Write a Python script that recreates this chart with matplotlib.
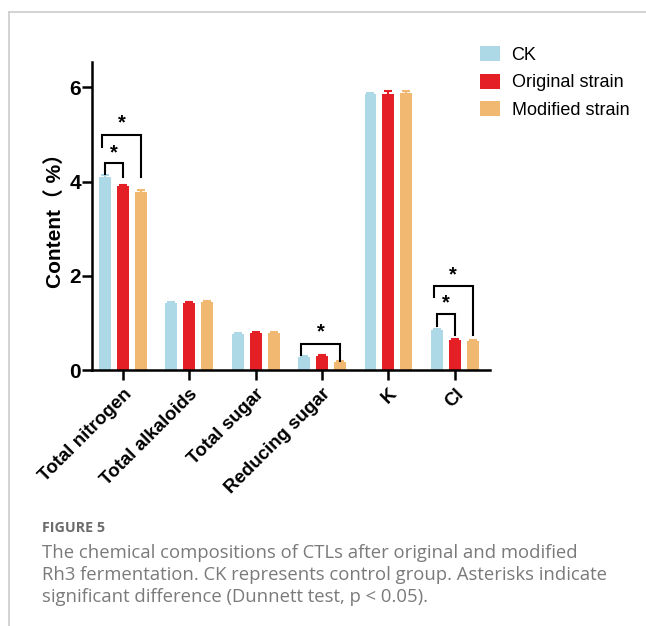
import numpy as np
import matplotlib
matplotlib.use("Agg")
import matplotlib.pyplot as plt
from matplotlib.patches import Patch
from matplotlib.lines import Line2D

# data
categories = ["Total nitrogen", "Total alkaloids", "Total sugar", "Reducing sugar", "K", "Cl"]
series_names = ["CK", "Original strain", "Modified strain"]
ck = [4.10, 1.42, 0.77, 0.27, 5.85, 0.84]
original = [3.91, 1.43, 0.79, 0.29, 5.87, 0.63]
modified = [3.79, 1.44, 0.79, 0.18, 5.89, 0.61]
ck_err = [0.03, 0.02, 0.02, 0.02, 0.04, 0.02]
original_err = [0.02, 0.02, 0.02, 0.02, 0.05, 0.02]
modified_err = [0.04, 0.02, 0.02, 0.02, 0.03, 0.02]

# significance brackets: (group, series a, series b, top, leg a bottom, leg b bottom, star y)
brackets = [
    (0, 0, 1, 4.39, 4.16, 4.10, 4.60),
    (0, 0, 2, 5.00, 4.73, 4.10, 5.24),
    (3, 0, 2, 0.56, 0.31, 0.20, 0.80),
    (5, 0, 1, 1.19, 0.93, 0.74, 1.42),
    (5, 0, 2, 1.78, 1.56, 0.74, 2.01),
]

colors = ["#add8e6", "#e41f26", "#f0b870"]

chart_font = ["Liberation Sans", "Noto Sans CJK SC"]
cap_font = ["Open Sans", "DejaVu Sans"]
plt.rcParams['font.family'] = chart_font

W, H = 646, 626
fig = plt.figure(figsize=(W / 100, H / 100), dpi=100)
ax = fig.add_axes([92 / W, 1 - 370 / H, (490 - 92) / W, (370 - 62) / H])

x = np.arange(len(categories))
step = 0.271
width = 0.18
vals = [ck, original, modified]
errs = [ck_err, original_err, modified_err]
for i in range(3):
    ax.bar(x + (i - 1) * step, vals[i], width, color=colors[i], yerr=errs[i],
           error_kw=dict(ecolor=colors[i], capsize=3, capthick=1.5, elinewidth=1.5))

for g, a, b, top, ya, yb, sy in brackets:
    xa = g + (a - 1) * step
    xb = g + (b - 1) * step
    if b == 2:
        xa = xa - 0.05
    ax.plot([xa, xa, xb, xb], [ya, top, top, yb], color="black", lw=1.5,
            solid_joinstyle="miter")
    ax.text((xa + xb) / 2, sy, "*", ha="center", va="center", fontsize=14.5,
            fontweight="bold")

ax.set_xlim(-0.467, 5.53)
ax.set_ylim(0, 6.54)
ax.set_yticks([0, 2, 4, 6])
ax.set_xticks(x)
ax.set_xticklabels(categories, rotation=45, ha="right", rotation_mode="anchor",
                   fontsize=13.5, fontweight="bold")
for lab in ax.get_yticklabels():
    lab.set_fontsize(15)
    lab.set_fontweight("bold")
ax.tick_params(axis="both", length=7, width=1.8, pad=1)
ax.tick_params(axis="x", pad=4)
ax.spines["top"].set_visible(False)
ax.spines["right"].set_visible(False)
ax.spines["left"].set_linewidth(1.8)
ax.spines["bottom"].set_linewidth(1.8)
ax.set_ylabel("Content\uff08 %\uff09", fontsize=15, fontweight="bold", labelpad=3)

handles = [Patch(facecolor=c, edgecolor="none") for c in colors]
fig.legend(handles, series_names, loc="upper left", bbox_to_anchor=(480 / W, 1 - 46 / H),
           frameon=False, fontsize=13, handlelength=1.1, handleheight=0.9,
           handletextpad=0.65, labelspacing=0.55, borderpad=0, borderaxespad=0)

# page frame
fig.add_artist(Line2D([9 / W, 1], [1 - 12 / H, 1 - 12 / H], color="#cccccc", lw=1.2))
fig.add_artist(Line2D([9 / W, 9 / W], [0, 1 - 12 / H], color="#cccccc", lw=1.2))

# caption
fig.text(42 / W, 1 - 532 / H, "FIGURE 5", fontsize=10.3, fontweight="bold",
         color="#6b6b6b", family=cap_font, va="baseline")
cap_lines = [
    "The chemical compositions of CTLs after original and modified",
    "Rh3 fermentation. CK represents control group. Asterisks indicate",
    "significant difference (Dunnett test, p < 0.05).",
]
for k, line in enumerate(cap_lines):
    fig.text(42 / W, 1 - (558 + 22 * k) / H, line, fontsize=13.3, color="#7a7a7a",
             family=cap_font, va="baseline")

fig.savefig("out.png", dpi=100)
